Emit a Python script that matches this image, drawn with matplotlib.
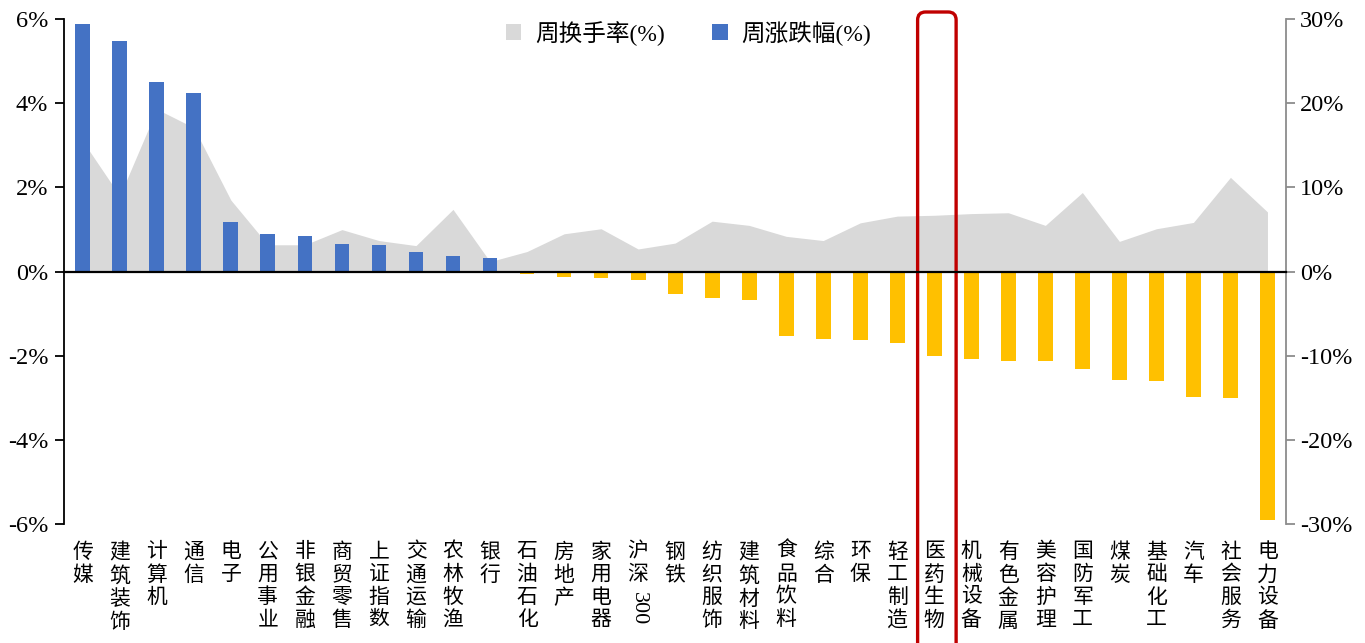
import matplotlib
matplotlib.use('Agg')
import matplotlib.pyplot as plt
from matplotlib.patches import FancyBboxPatch
from matplotlib.ticker import FuncFormatter
from matplotlib.transforms import blended_transform_factory, IdentityTransform

plt.rcParams['font.family'] = ['Liberation Serif', 'Noto Sans CJK SC']
plt.rcParams['axes.unicode_minus'] = False

# 行业周涨跌幅与周换手率
categories = ['传媒', '建筑装饰', '计算机', '通信', '电子', '公用事业', '非银金融', '商贸零售',
              '上证指数', '交通运输', '农林牧渔', '银行', '石油石化', '房地产', '家用电器', '沪深300',
              '钢铁', '纺织服饰', '建筑材料', '食品饮料', '综合', '环保', '轻工制造', '医药生物',
              '机械设备', '有色金属', '美容护理', '国防军工', '煤炭', '基础化工', '汽车', '社会服务',
              '电力设备']
weekly_change = [5.87, 5.47, 4.50, 4.25, 1.18, 0.90, 0.86, 0.67, 0.63, 0.48, 0.37, 0.33,
                 -0.05, -0.13, -0.14, -0.20, -0.54, -0.63, -0.66, -1.53, -1.59, -1.63, -1.70,
                 -1.99, -2.07, -2.13, -2.13, -2.32, -2.58, -2.60, -2.97, -2.99, -5.90]
turnover = [15.5, 9.0, 19.3, 17.1, 8.5, 3.2, 3.2, 5.0, 3.7, 3.1, 7.4, 1.2, 2.4, 4.5, 5.1,
            2.7, 3.4, 6.0, 5.5, 4.2, 3.7, 5.8, 6.6, 6.7, 6.9, 7.0, 5.5, 9.4, 3.6, 5.1, 5.85,
            11.2, 7.1]
highlight = '医药生物'

fig = plt.figure(figsize=(13.65, 6.43), dpi=100)
ax = fig.add_axes([0.0471, 0.1843, 0.8950, 0.7862])
ax2 = ax.twinx()
ax.set_zorder(ax2.get_zorder() + 1)
ax.patch.set_visible(False)

x = list(range(len(categories)))
area = ax2.fill_between(x, turnover, 0, color='#D9D9D9', lw=0, label='周换手率(%)')
colors = ['#4472C4' if v >= 0 else '#FFC000' for v in weekly_change]
bars = ax.bar(x, weekly_change, width=0.4, color=colors, label='周涨跌幅(%)')

ax.set_xlim(-0.5, len(categories) - 0.5)
ax.set_ylim(-6, 6)
ax.set_yticks(range(-6, 7, 2))
ax.yaxis.set_major_formatter(FuncFormatter(lambda v, p: '%d%%' % v))
ax2.set_ylim(-30, 30)
ax2.set_yticks(range(-30, 31, 10))
ax2.yaxis.set_major_formatter(FuncFormatter(lambda v, p: '%d%%' % v))

ax.spines['top'].set_visible(False)
ax2.spines['top'].set_visible(False)
ax.spines['right'].set_visible(False)
ax2.spines['left'].set_visible(False)
ax2.spines['bottom'].set_visible(False)
ax.spines['left'].set_linewidth(1.3)
ax2.spines['right'].set_color('#8C8C8C')
ax2.spines['right'].set_linewidth(1.3)
ax.spines['bottom'].set_position(('data', 0))
ax.spines['bottom'].set_linewidth(1.6)

ax.set_xticks([i + 0.5 for i in x])
ax.set_xticklabels([])
ax.tick_params(axis='x', direction='out', length=6.5, width=1.5)
ax.tick_params(axis='y', direction='out', length=6.5, width=1.3, labelsize=17.5, pad=5)
ax2.tick_params(axis='y', direction='out', length=6.5, width=1.3, color='#8C8C8C',
                labelsize=17.5, pad=3.5)
ax2.set_xticks([])

# 类目标签（竖排）
trans = blended_transform_factory(ax.transData, ax.transAxes)
for i, c in enumerate(categories):
    if c == '沪深300':
        ax.text(i, -0.037, '沪\n深', transform=trans, ha='center', va='top',
                fontsize=15, linespacing=1.25)
        ax.annotate('300', xy=(i, -0.037), xycoords=trans, xytext=(0, -35),
                    textcoords='offset points', ha='center', va='top',
                    rotation=270, fontsize=16)
    else:
        ax.text(i, -0.037, '\n'.join(c), transform=trans, ha='center', va='top',
                fontsize=15, linespacing=1.25)

ax.legend([area, bars], ['周换手率(%)', '周涨跌幅(%)'], loc='center',
          bbox_to_anchor=(0.511, 0.972), ncol=2, frameon=False, fontsize=17,
          handlelength=0.65, handleheight=0.65, handletextpad=0.6, columnspacing=2.0)

# 红框标注
i = categories.index(highlight)
x0 = ax.transData.transform((i - 0.45, 0))[0]
x1 = ax.transData.transform((i + 0.59, 0))[0]
box = FancyBboxPatch((x0, -20), x1 - x0, 643 - 12 + 20,
                     boxstyle='round,pad=0,rounding_size=8',
                     transform=IdentityTransform(), fill=False,
                     ec='#C00000', lw=2.4, clip_on=False)
fig.add_artist(box)

fig.savefig('out.png', dpi=100)
